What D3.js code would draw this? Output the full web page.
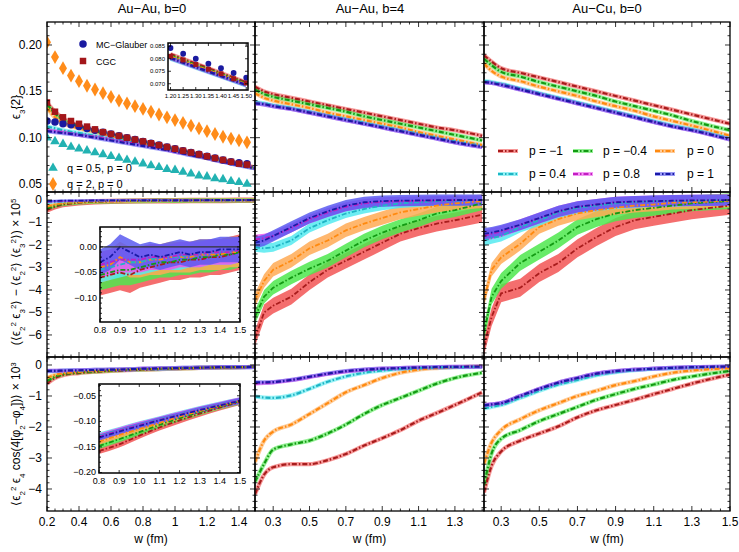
<!DOCTYPE html>
<html><head><meta charset="utf-8">
<script src="https://cdn.jsdelivr.net/npm/d3@7"></script>
<style>body{margin:0;background:#fff}text{font-family:"Liberation Sans",Arial,sans-serif}</style>
</head><body><svg id="c" width="739" height="552"></svg>
<script>
// ---------- data ----------
const pLabels = ["p = −1","p = −0.4","p = 0","p = 0.4","p = 0.8","p = 1"];
const colTitles = ["Au−Au, b=0","Au−Au, b=4","Au−Cu, b=0"];
const wA = [0.2,0.25,0.3,0.4,0.5,0.6,0.7,0.8,0.9,1.0,1.1,1.2,1.3,1.4,1.5];
const wB = [0.2,0.25,0.3,0.4,0.5,0.6,0.7,0.8,0.9,1.0,1.1,1.2,1.3,1.45];
const wC = [0.21,0.25,0.3,0.4,0.5,0.6,0.7,0.8,0.9,1.0,1.1,1.2,1.3,1.5];
const wM = [0.2,0.25,0.3,0.35,0.4,0.45,0.5,0.55,0.6,0.65,0.7,0.75,0.8,0.85,0.9,0.95,1.0,1.05,1.1,1.15,1.2,1.25,1.3,1.35,1.4,1.45];
const wI2 = [0.8,0.85,0.9,0.95,1.0,1.05,1.1,1.15,1.2,1.25,1.3,1.35,1.4,1.45,1.5];
const wI3 = [0.8,0.9,1.0,1.1,1.2,1.3,1.4,1.5];
const wI1 = [1.2,1.25,1.3,1.35,1.4,1.45,1.5];
const wI1L = [1.2,1.5];

const e3_AuAu0 = [
 [0.138,0.128,0.121,0.113,0.108,0.104,0.100,0.096,0.092,0.088,0.084,0.080,0.076,0.072,0.068],
 [0.136,0.126,0.119,0.112,0.107,0.103,0.099,0.095,0.091,0.087,0.083,0.079,0.075,0.071,0.067],
 [0.132,0.122,0.116,0.110,0.106,0.102,0.098,0.094,0.090,0.086,0.082,0.078,0.075,0.071,0.067],
 [0.112,0.110,0.108,0.105,0.102,0.099,0.096,0.093,0.090,0.086,0.082,0.078,0.074,0.071,0.067],
 [0.108,0.107,0.106,0.103,0.101,0.098,0.095,0.092,0.089,0.085,0.082,0.078,0.074,0.071,0.067],
 [0.107,0.106,0.105,0.103,0.100,0.097,0.094,0.091,0.088,0.085,0.081,0.078,0.074,0.070,0.067]];
const e3_AuAu4 = [
 [0.155,0.150,0.147,0.143,0.139,0.135,0.131,0.127,0.123,0.119,0.115,0.111,0.108,0.102],
 [0.152,0.147,0.144,0.140,0.136,0.132,0.128,0.123,0.119,0.115,0.111,0.107,0.103,0.097],
 [0.148,0.143,0.140,0.136,0.132,0.127,0.123,0.119,0.115,0.111,0.106,0.102,0.098,0.092],
 [0.138,0.137,0.135,0.132,0.128,0.124,0.120,0.116,0.112,0.108,0.104,0.100,0.096,0.091],
 [0.137,0.136,0.134,0.131,0.127,0.123,0.119,0.115,0.111,0.107,0.103,0.099,0.095,0.090],
 [0.137,0.136,0.134,0.131,0.127,0.123,0.119,0.115,0.111,0.107,0.103,0.099,0.095,0.090]];
const e3_AuCu0 = [
 [0.189,0.182,0.175,0.170,0.165,0.160,0.155,0.150,0.145,0.140,0.135,0.130,0.125,0.115],
 [0.185,0.178,0.171,0.166,0.160,0.155,0.150,0.145,0.139,0.134,0.129,0.124,0.118,0.108],
 [0.180,0.172,0.166,0.161,0.155,0.150,0.145,0.139,0.134,0.129,0.123,0.118,0.113,0.102],
 [0.161,0.160,0.158,0.153,0.148,0.143,0.138,0.133,0.128,0.123,0.118,0.113,0.109,0.099],
 [0.160,0.159,0.157,0.152,0.147,0.142,0.137,0.132,0.127,0.122,0.117,0.112,0.108,0.098],
 [0.160,0.159,0.157,0.152,0.147,0.142,0.137,0.132,0.127,0.122,0.117,0.112,0.108,0.098]];
const mcGlauber = [0.118,0.117,0.115,0.114,0.112,0.110,0.108,0.106,0.104,0.102,0.100,0.098,0.096,0.094,0.092,0.090,0.088,0.086,0.084,0.082,0.080,0.078,0.076,0.074,0.073,0.072];
const cgc = [0.138,0.128,0.122,0.118,0.115,0.112,0.109,0.106,0.104,0.102,0.100,0.098,0.096,0.094,0.092,0.090,0.088,0.086,0.084,0.082,0.080,0.078,0.076,0.074,0.072,0.071];
const q05 = [0.100,0.096,0.093,0.090,0.088,0.086,0.084,0.082,0.080,0.078,0.076,0.074,0.072,0.070,0.068,0.066,0.065,0.063,0.061,0.059,0.058,0.056,0.055,0.053,0.052,0.050];
const q2 = [0.203,0.187,0.175,0.167,0.161,0.156,0.152,0.148,0.144,0.140,0.137,0.134,0.131,0.128,0.125,0.122,0.119,0.116,0.113,0.110,0.107,0.104,0.101,0.099,0.097,0.095];
const inset1Glauber = [0.0843,0.0820,0.0800,0.0780,0.0762,0.0743,0.0724];
const inset1CGC = [0.0810,0.0795,0.0777,0.0758,0.0740,0.0720,0.0703];
const inset1Lines = [[0.0818,0.0705],[0.0812,0.0700],[0.0808,0.0698],[0.0800,0.0693],[0.0802,0.0695],[0.0803,0.0695]];

const c23_AuAu0 = [
 [-0.45,-0.3,-0.2,-0.12,-0.08,-0.06,-0.05,-0.04,-0.03,-0.03,-0.02,-0.02,-0.02,-0.01,-0.01],
 [-0.38,-0.25,-0.17,-0.1,-0.07,-0.05,-0.04,-0.04,-0.03,-0.03,-0.02,-0.02,-0.01,-0.01,-0.01],
 [-0.3,-0.2,-0.14,-0.09,-0.06,-0.05,-0.04,-0.03,-0.03,-0.02,-0.02,-0.02,-0.01,-0.01,-0.01],
 [-0.12,-0.09,-0.07,-0.05,-0.04,-0.03,-0.03,-0.02,-0.02,-0.02,-0.01,-0.01,-0.01,-0.01,0],
 [-0.08,-0.06,-0.05,-0.04,-0.03,-0.03,-0.02,-0.02,-0.02,-0.01,-0.01,-0.01,-0.01,0,0],
 [-0.05,-0.04,-0.03,-0.03,-0.02,-0.02,-0.02,-0.01,-0.01,-0.01,-0.01,0,0,0,0]];
const c23err_AuAu0 = [0.12,0.1,0.08,0.05,0.05,0.05];
const c23_AuAu4 = [
 [-6.15,-5.0,-4.7,-4.3,-3.65,-3.1,-2.7,-2.3,-1.9,-1.5,-1.25,-1.05,-0.9,-0.65],
 [-5.2,-4.3,-3.9,-3.45,-3.05,-2.7,-2.25,-1.8,-1.45,-1.15,-0.9,-0.6,-0.45,-0.15],
 [-4.45,-3.6,-3.1,-2.7,-2.15,-1.8,-1.35,-1.05,-0.8,-0.55,-0.4,-0.25,-0.15,-0.05],
 [-2.1,-2.15,-2.1,-1.8,-1.25,-0.9,-0.6,-0.4,-0.25,-0.15,-0.1,-0.05,-0.03,0],
 [-1.75,-1.7,-1.6,-1.25,-0.85,-0.55,-0.3,-0.15,-0.08,-0.05,-0.03,-0.02,-0.01,0],
 [-1.9,-1.8,-1.6,-1.2,-0.8,-0.5,-0.25,-0.1,-0.05,-0.03,-0.02,-0.01,0,0]];
const c23err_AuAu4 = [0.35,0.3,0.3,0.2,0.2,0.25];
const c23_AuCu0 = [
 [-6.5,-5.2,-4.15,-3.9,-3.25,-2.8,-2.15,-1.65,-1.2,-0.9,-0.75,-0.6,-0.45,-0.25],
 [-5.9,-4.3,-3.6,-2.8,-2.3,-1.8,-1.2,-0.85,-0.6,-0.45,-0.35,-0.25,-0.15,-0.05],
 [-4.45,-3.1,-2.55,-1.95,-1.2,-0.85,-0.6,-0.45,-0.35,-0.25,-0.2,-0.12,-0.1,-0.02],
 [-1.8,-1.7,-1.6,-1.2,-0.9,-0.55,-0.35,-0.25,-0.15,-0.1,-0.05,-0.05,-0.03,0],
 [-1.6,-1.5,-1.4,-1.1,-0.8,-0.5,-0.3,-0.2,-0.1,-0.07,-0.05,-0.03,-0.02,0],
 [-1.5,-1.45,-1.35,-1.1,-0.8,-0.5,-0.3,-0.2,-0.1,-0.07,-0.05,-0.03,-0.02,0]];
const c23err_AuCu0 = [0.4,0.35,0.3,0.25,0.25,0.25];
const c23_inset = [
 [-0.06,-0.055,-0.05,-0.055,-0.045,-0.04,-0.035,-0.03,-0.03,-0.025,-0.025,-0.02,-0.02,-0.015,-0.01],
 [-0.055,-0.05,-0.045,-0.045,-0.04,-0.035,-0.03,-0.03,-0.025,-0.025,-0.02,-0.02,-0.015,-0.015,-0.01],
 [-0.04,-0.035,-0.02,-0.03,-0.03,-0.025,-0.025,-0.02,-0.02,-0.02,-0.015,-0.015,-0.015,-0.01,-0.01],
 [-0.045,-0.04,-0.035,-0.03,-0.03,-0.025,-0.02,-0.02,-0.02,-0.015,-0.015,-0.01,-0.01,-0.01,-0.005],
 [-0.035,-0.03,-0.025,-0.025,-0.025,-0.02,-0.02,-0.02,-0.015,-0.015,-0.015,-0.01,-0.01,-0.01,-0.005],
 [-0.03,-0.02,0.0,-0.01,-0.02,-0.015,-0.02,-0.015,-0.01,-0.015,-0.01,-0.01,-0.005,-0.005,-0.005]];
const c23err_inset = [0.035,0.03,0.03,0.025,0.025,0.025];

const c4_AuAu0 = [
 [-0.6,-0.42,-0.33,-0.26,-0.22,-0.19,-0.17,-0.15,-0.13,-0.12,-0.1,-0.09,-0.08,-0.07,-0.06],
 [-0.52,-0.38,-0.3,-0.24,-0.21,-0.18,-0.16,-0.14,-0.13,-0.11,-0.1,-0.09,-0.08,-0.07,-0.06],
 [-0.42,-0.32,-0.27,-0.22,-0.19,-0.17,-0.15,-0.14,-0.12,-0.11,-0.1,-0.09,-0.08,-0.07,-0.06],
 [-0.2,-0.2,-0.19,-0.18,-0.16,-0.15,-0.14,-0.13,-0.12,-0.1,-0.09,-0.08,-0.07,-0.07,-0.06],
 [-0.2,-0.19,-0.19,-0.17,-0.16,-0.15,-0.14,-0.12,-0.11,-0.1,-0.09,-0.08,-0.07,-0.07,-0.06],
 [-0.19,-0.19,-0.18,-0.17,-0.16,-0.15,-0.14,-0.12,-0.11,-0.1,-0.09,-0.08,-0.07,-0.07,-0.06]];
const c4_AuAu4 = [
 [-4.17,-3.54,-3.3,-3.2,-3.2,-3.07,-2.87,-2.6,-2.36,-2.1,-1.8,-1.55,-1.29,-0.88],
 [-3.77,-3.19,-2.73,-2.56,-2.44,-2.21,-1.92,-1.58,-1.29,-1.06,-0.83,-0.6,-0.42,-0.25],
 [-3.13,-2.44,-2.15,-1.92,-1.58,-1.23,-0.88,-0.65,-0.42,-0.25,-0.15,-0.1,-0.07,-0.04],
 [-1.02,-1.05,-1.06,-0.98,-0.77,-0.54,-0.37,-0.25,-0.18,-0.13,-0.1,-0.08,-0.07,-0.06],
 [-0.6,-0.58,-0.56,-0.49,-0.39,-0.29,-0.21,-0.16,-0.12,-0.1,-0.08,-0.07,-0.06,-0.05],
 [-0.56,-0.56,-0.55,-0.48,-0.38,-0.28,-0.2,-0.15,-0.12,-0.1,-0.08,-0.07,-0.06,-0.05]];
const c4_AuCu0 = [
 [-4.11,-3.25,-2.79,-2.44,-2.21,-1.98,-1.69,-1.46,-1.29,-1.12,-0.94,-0.77,-0.6,-0.31],
 [-3.88,-2.85,-2.38,-2.1,-1.81,-1.58,-1.35,-1.12,-0.94,-0.77,-0.63,-0.48,-0.37,-0.19],
 [-3.19,-2.5,-2.1,-1.75,-1.46,-1.23,-1.0,-0.83,-0.65,-0.52,-0.37,-0.25,-0.18,-0.1],
 [-1.4,-1.35,-1.29,-1.06,-0.83,-0.63,-0.48,-0.33,-0.23,-0.17,-0.13,-0.1,-0.08,-0.05],
 [-1.3,-1.27,-1.23,-1.0,-0.77,-0.57,-0.42,-0.28,-0.2,-0.15,-0.12,-0.09,-0.07,-0.05],
 [-1.3,-1.27,-1.23,-1.0,-0.77,-0.57,-0.42,-0.28,-0.2,-0.15,-0.12,-0.09,-0.07,-0.05]];
const c4_inset = [
 [-0.158,-0.145,-0.128,-0.112,-0.098,-0.085,-0.073,-0.062],
 [-0.148,-0.135,-0.121,-0.107,-0.094,-0.082,-0.071,-0.061],
 [-0.140,-0.127,-0.115,-0.103,-0.091,-0.080,-0.070,-0.060],
 [-0.128,-0.117,-0.106,-0.096,-0.086,-0.076,-0.067,-0.059],
 [-0.130,-0.118,-0.107,-0.097,-0.087,-0.077,-0.068,-0.059],
 [-0.132,-0.120,-0.109,-0.098,-0.088,-0.078,-0.069,-0.060]];
const c4err_inset = [0.006,0.006,0.006,0.006,0.006,0.006];

const xTicks = [[0.2,0.4,0.6,0.8,1,1.2,1.4],[0.3,0.5,0.7,0.9,1.1,1.3],[0.3,0.5,0.7,0.9,1.1,1.3,1.5]];
const yTicks = [[0.05,0.10,0.15,0.20],[0,-1,-2,-3,-4,-5,-6],[0,-1,-2,-3,-4]];

// ---------- style / layout ----------
const dark = ["#a81c1c","#139a13","#ff8a10","#1fb4c4","#c21fc2","#1a1aa6"];
const light = ["#f25555","#4ee84e","#ffaa55","#55eaf0","#ee55ee","#5a5af0"];
const cols = [{x0:47,x1:255,dom:[0.2,1.5]},{x0:255,x1:484,dom:[0.2,1.46]},{x0:484,x1:730,dom:[0.21,1.5]}];
const rows = [{y0:22,y1:192,dom:[0.0414,0.2248],minor:0.01,fmt:d3.format(".2f")},
              {y0:192,y1:357,dom:[-6.98,0.356],minor:0.2,fmt:v=>v===0?"0":"−"+Math.abs(v)},
              {y0:357,y1:511,dom:[-4.71,0.258],minor:0.2,fmt:v=>v===0?"0":"−"+Math.abs(v)}];
const svg = d3.select("#c");
const DASH = "5,2,1.5,2";
let clipId = 0;

function frameTicks(g, x, y, xt, yt, xminor, yminor, opt){
  const [X0,X1]=x.range(), [Y1,Y0]=y.range();
  const tk = g.append("g").attr("stroke","#000").attr("stroke-width",0.8);
  const xmin=x.domain()[0], xmax=x.domain()[1], ymin=y.domain()[0], ymax=y.domain()[1];
  const mx = d3.range(Math.ceil(xmin/xminor-1e-6), Math.floor(xmax/xminor+1e-6)+1).map(i=>i*xminor);
  mx.forEach(v=>{const maj=xt.some(t=>Math.abs(t-v)<1e-6);const L=maj?opt.maj:opt.min;const px=x(v);
    tk.append("line").attr("x1",px).attr("x2",px).attr("y1",Y1).attr("y2",Y1-L);
    tk.append("line").attr("x1",px).attr("x2",px).attr("y1",Y0).attr("y2",Y0+L);});
  const my = d3.range(Math.ceil(ymin/yminor-1e-6), Math.floor(ymax/yminor+1e-6)+1).map(i=>i*yminor);
  my.forEach(v=>{const maj=yt.some(t=>Math.abs(t-v)<1e-6);const L=maj?opt.maj:opt.min;const py=y(v);
    tk.append("line").attr("y1",py).attr("y2",py).attr("x1",X0).attr("x2",X0+L);
    tk.append("line").attr("y1",py).attr("y2",py).attr("x1",X1).attr("x2",X1-L);});
  g.append("rect").attr("x",X0).attr("y",Y0).attr("width",X1-X0).attr("height",Y1-Y0)
    .attr("fill","none").attr("stroke","#000").attr("stroke-width",opt.frame);
}
function clipFor(g,x,y){
  const id="cl"+(clipId++);
  g.append("clipPath").attr("id",id).append("rect").attr("x",x.range()[0]).attr("y",y.range()[1])
   .attr("width",x.range()[1]-x.range()[0]).attr("height",y.range()[0]-y.range()[1]);
  return g.append("g").attr("clip-path",`url(#${id})`);
}
function drawLines(g,x,y,ws,series,lw,curve){
  const line=d3.line().x((d,i)=>x(ws[i])).y(d=>y(d)).curve(curve||d3.curveMonotoneX);
  series.forEach((s,i)=>g.append("path").attr("d",line(s)).attr("fill","none").attr("stroke",light[i]).attr("stroke-width",lw+2).attr("opacity",0.6));
  series.forEach((s,i)=>g.append("path").attr("d",line(s)).attr("fill","none").attr("stroke",dark[i]).attr("stroke-width",lw).attr("stroke-dasharray",DASH));
}
function drawBands(g,x,y,ws,series,errs,curve){
  series.forEach((s,i)=>{
    const area=d3.area().x((d,j)=>x(ws[j])).y0(d=>y(d-errs[i])).y1(d=>y(d+errs[i])).curve(curve);
    g.append("path").attr("d",area(s)).attr("fill",light[i]).attr("opacity",0.85);});
  const line=d3.line().x((d,i)=>x(ws[i])).y(d=>y(d)).curve(curve);
  series.forEach((s,i)=>g.append("path").attr("d",line(s)).attr("fill","none").attr("stroke",dark[i]).attr("stroke-width",1.8).attr("stroke-dasharray",DASH));
}

const data = [[e3_AuAu0,e3_AuAu4,e3_AuCu0],[c23_AuAu0,c23_AuAu4,c23_AuCu0],[c4_AuAu0,c4_AuAu4,c4_AuCu0]];
const errs = [c23err_AuAu0,c23err_AuAu4,c23err_AuCu0];
const wsets = [wA,wB,wC];

const mkSym=(t,s)=>d3.symbol().type(t).size(s);
const sym = {circle:mkSym(d3.symbolCircle,44), square:mkSym(d3.symbolSquare,42),
  tri:mkSym(d3.symbolTriangle,40), diamond:mkSym(d3.symbolDiamond,55)};
const symS = {circle:mkSym(d3.symbolCircle,26), square:mkSym(d3.symbolSquare,24)};

rows.forEach((r,ri)=>cols.forEach((c,ci)=>{
  const g=svg.append("g");
  const x=d3.scaleLinear().domain(c.dom).range([c.x0,c.x1]);
  const y=d3.scaleLinear().domain(r.dom).range([r.y1,r.y0]);
  const pg=clipFor(g,x,y);
  if(ri===1) drawBands(pg,x,y,wsets[ci],data[ri][ci],errs[ci],d3.curveLinear);
  else drawLines(pg,x,y,wsets[ci],data[ri][ci],2.2);
  if(ri===0&&ci===0){
    const mk=(arr,s,col)=>pg.selectAll(null).data(arr).enter().append("path").attr("d",s)
      .attr("transform",(d,i)=>`translate(${x(wM[i])},${y(d)})`).attr("fill",col);
    mk(q2,sym.diamond,"#ff8c1a"); mk(q05,sym.tri,"#22b2b2"); mk(mcGlauber,sym.circle,"#1a1aa0"); mk(cgc,sym.square,"#a3161a");
  }
  frameTicks(g,x,y,xTicks[ci],yTicks[ri],0.05,r.minor,{maj:5,min:2.5,frame:1.3});
  if(ci===0){
    yTicks[ri].forEach(v=>g.append("text").attr("x",c.x0-5).attr("y",y(v)+4).attr("text-anchor","end").attr("font-size",12).text(r.fmt(v)));
  }
  if(ri===2){
    xTicks[ci].forEach(v=>g.append("text").attr("x",x(v)).attr("y",r.y1+15).attr("text-anchor","middle").attr("font-size",12).text(v));
    g.append("text").attr("x",(c.x0+c.x1)/2).attr("y",543).attr("text-anchor","middle").attr("font-size",12).text("w (fm)");
  }
  if(ri===0) g.append("text").attr("x",[152,370,607][ci]).attr("y",13).attr("text-anchor","middle").attr("font-size",13).text(colTitles[ci]);
}));

// ---------- insets ----------
function inset(box, xd, yd, xt, yt, ym, xfmt, yfmt, fs, draw){
  const g=svg.append("g");
  const x=d3.scaleLinear().domain(xd).range([box[0],box[1]]);
  const y=d3.scaleLinear().domain(yd).range([box[3],box[2]]);
  g.append("rect").attr("x",box[0]).attr("y",box[2]).attr("width",box[1]-box[0]).attr("height",box[3]-box[2]).attr("fill","#fff");
  const pg=clipFor(g,x,y); draw(pg,x,y);
  frameTicks(g,x,y,xt,yt,xt[1]-xt[0],ym,{maj:3,min:2,frame:1.5});
  xt.forEach(v=>g.append("text").attr("x",x(v)).attr("y",box[3]+fs+2).attr("text-anchor","middle").attr("font-size",fs).text(xfmt(v)));
  yt.forEach(v=>g.append("text").attr("x",box[0]-3).attr("y",y(v)+fs/3).attr("text-anchor","end").attr("font-size",fs).text(yfmt(v)));
}
const mfmt=f=>v=>{const s=d3.format(f)(Math.abs(v));return (v<0?"−":"")+s;};
inset([168,248,43,90],[1.19,1.507],[0.0675,0.0863],[1.2,1.25,1.3,1.35,1.4,1.45,1.5],[0.070,0.075,0.080,0.085],0.005,
  d3.format(".2f"),d3.format(".3f"),6,(g,x,y)=>{
   drawLines(g,x,y,wI1L,inset1Lines,2.5,d3.curveLinear);
   g.selectAll(null).data(inset1Glauber).enter().append("path").attr("d",symS.circle).attr("transform",(d,i)=>`translate(${x(wI1[i])},${y(d)})`).attr("fill","#1a1aa0");
   g.selectAll(null).data(inset1CGC).enter().append("path").attr("d",symS.square).attr("transform",(d,i)=>`translate(${x(wI1[i])},${y(d)})`).attr("fill","#a3161a");
  });
inset([100,240,227,322],[0.8,1.5],[-0.147,0.039],[0.8,0.9,1.0,1.1,1.2,1.3,1.4,1.5],[0.00,-0.05,-0.10],0.01,
  d3.format(".1f"),mfmt(".2f"),9,(g,x,y)=>{
   drawBands(g,x,y,wI2,c23_inset,c23err_inset,d3.curveLinear);
   g.append("line").attr("x1",x(0.8)).attr("x2",x(1.5)).attr("y1",y(0)).attr("y2",y(0)).attr("stroke","#333").attr("stroke-width",1.2);
  });
inset([99,240,384,473],[0.8,1.5],[-0.201,-0.027],[0.8,0.9,1.0,1.1,1.2,1.3,1.4,1.5],[-0.05,-0.10,-0.15,-0.20],0.01,
  d3.format(".1f"),mfmt(".2f"),9,(g,x,y)=>{
   drawBands(g,x,y,wI3,c4_inset,c4err_inset,d3.curveMonotoneX);
  });

// ---------- legends ----------
const lg=svg.append("g");
[[83,44,sym.circle,"#1a1aa0","MC−Glauber",96,9],[83,61,sym.square,"#a3161a","CGC",96,9],
 [53,168,sym.tri,"#22b2b2","q = 0.5, p = 0",67,11],[53,184,sym.diamond,"#ff8c1a","q = 2, p = 0",67,11]].forEach(d=>{
  lg.append("path").attr("d",d[2]).attr("transform",`translate(${d[0]},${d[1]})`).attr("fill",d[3]);
  lg.append("text").attr("x",d[5]).attr("y",d[1]+4).attr("font-size",d[6]).text(d[4]);
});
const lx=[[498,529],[573,603],[655,687]], ly=[151,174];
pLabels.forEach((t,i)=>{
  const [a,b]=lx[i%3], yy=ly[Math.floor(i/3)];
  lg.append("line").attr("x1",a).attr("x2",a+20).attr("y1",yy).attr("y2",yy).attr("stroke",light[i]).attr("stroke-width",4).attr("opacity",0.6);
  lg.append("line").attr("x1",a).attr("x2",a+20).attr("y1",yy).attr("y2",yy).attr("stroke",dark[i]).attr("stroke-width",2.2).attr("stroke-dasharray",DASH);
  lg.append("text").attr("x",b).attr("y",yy+4).attr("font-size",12).text(t);
});

// ---------- y labels ----------
function ylab(cy, parts){
  const t=svg.append("text").attr("transform",`translate(20,${cy}) rotate(-90)`).attr("text-anchor","middle").attr("font-size",12);
  parts.forEach(p=>{const s=t.append("tspan").text(p[0]); if(p[1]) s.attr("baseline-shift",p[1]).attr("font-size",8);});
}
ylab(107,[["ϵ"],["3","sub"],["{2}"]]);
ylab(272,[["(⟨ϵ"],["2","sub"],["2","super"],[" ϵ"],["3","sub"],["2","super"],["⟩ − ⟨ϵ"],["2","sub"],["2","super"],["⟩ ⟨ϵ"],["3","sub"],["2","super"],["⟩) × 10"],["5","super"]]);
ylab(434,[["⟨ϵ"],["2","sub"],["2","super"],[" ϵ"],["4","sub"],[" cos(4[φ"],["2","sub"],["−φ"],["4","sub"],["])⟩ × 10"],["3","super"]]);
</script></body></html>
